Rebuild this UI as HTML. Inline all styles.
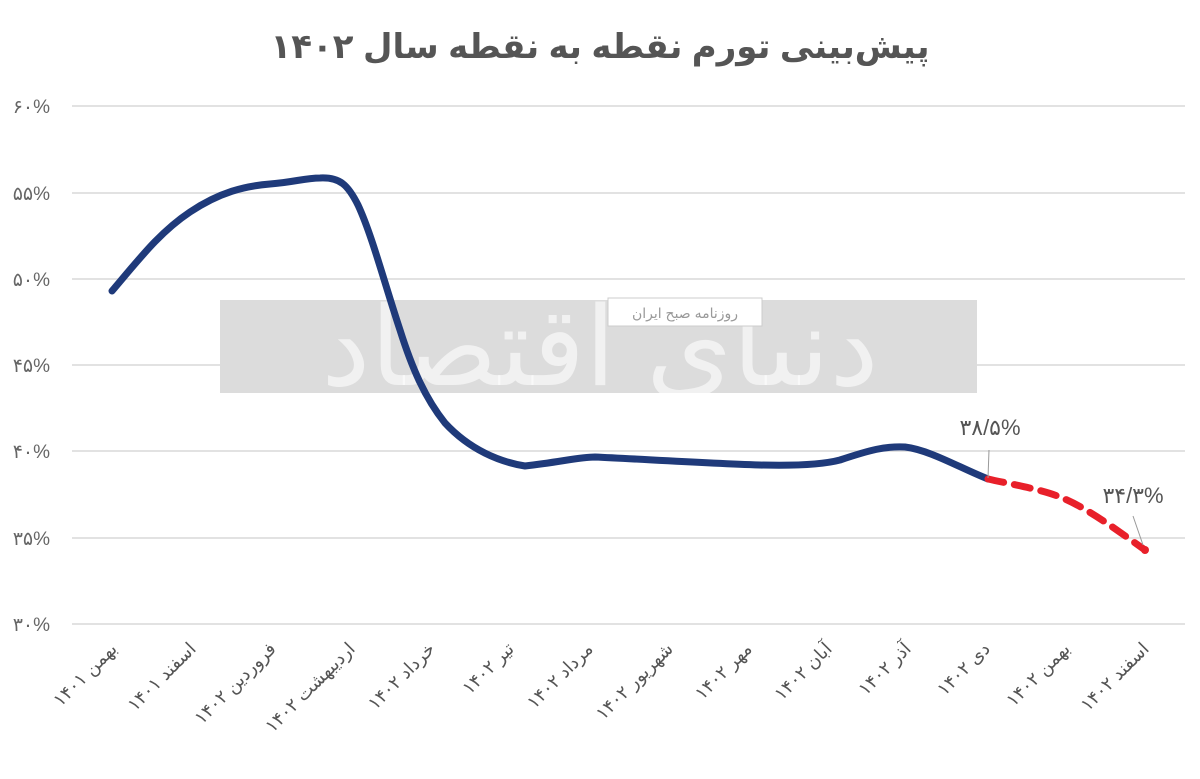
<!DOCTYPE html>
<html><head><meta charset="utf-8"><style>
body{margin:0;background:#fff;}
svg{display:block;font-family:"Liberation Sans","Noto Sans CJK SC","DejaVu Sans",sans-serif;}
</style></head><body>
<svg width="1200" height="779" viewBox="0 0 1200 779" xmlns="http://www.w3.org/2000/svg">
<text x="600" y="58" text-anchor="middle" font-size="34" font-weight="bold" fill="#555" direction="rtl">پیش‌بینی تورم نقطه به نقطه سال ۱۴۰۲</text>
<g stroke="#d9d9d9" stroke-width="1.5">
<line x1="72" y1="106" x2="1185" y2="106"/>
<line x1="72" y1="193" x2="1185" y2="193"/>
<line x1="72" y1="279" x2="1185" y2="279"/>
<line x1="72" y1="365" x2="1185" y2="365"/>
<line x1="72" y1="451" x2="1185" y2="451"/>
<line x1="72" y1="538" x2="1185" y2="538"/>
<line x1="72" y1="624" x2="1185" y2="624"/>
</g>
<g font-size="19" fill="#666" text-anchor="end">
<text x="50" y="113">۶۰%</text>
<text x="50" y="200">۵۵%</text>
<text x="50" y="286">۵۰%</text>
<text x="50" y="372">۴۵%</text>
<text x="50" y="458">۴۰%</text>
<text x="50" y="545">۳۵%</text>
<text x="50" y="631">۳۰%</text>
</g>
<rect x="220" y="300" width="757" height="93" fill="#dcdcdc"/>
<text x="600" y="385" text-anchor="middle" font-size="110" fill="#fff" fill-opacity="0.6" direction="rtl">دنیای اقتصاد</text>
<rect x="608" y="298" width="154" height="28" fill="#fff" stroke="#ccc"/>
<text x="685" y="318" text-anchor="middle" font-size="14" fill="#999" direction="rtl">روزنامه صبح ایران</text>
<path d="M112,291 C140,258 160,232 190,212 C220,192 245,186 270,184 C295,182 305,178 320,178 C340,177 348,185 358,205 C372,235 385,285 400,330 C412,368 425,398 445,423 C470,450 500,462 525,466 C560,462 580,457 595,457 C640,459 700,463 760,465 C800,466 825,464 840,460 C870,450 885,446 905,447 C930,450 960,468 988,479" fill="none" stroke="#1f3a7a" stroke-width="7" stroke-linejoin="round" stroke-linecap="round"/>
<path d="M988,479 C1010,484 1040,489 1060,497 C1085,507 1110,525 1145,550" fill="none" stroke="#e8202a" stroke-width="7" stroke-dasharray="16,11" stroke-linecap="round"/>
<circle cx="1145" cy="550" r="4" fill="#e8202a"/>
<line x1="988" y1="478" x2="989" y2="450" stroke="#999" stroke-width="1"/>
<line x1="1133" y1="516" x2="1143" y2="545" stroke="#999" stroke-width="1"/>
<text x="990" y="435" text-anchor="middle" font-size="22" fill="#555">۳۸/۵%</text>
<text x="1133" y="503" text-anchor="middle" font-size="22" fill="#555">۳۴/۳%</text>
<g font-size="18" fill="#555" text-anchor="start" direction="rtl">
<text transform="translate(118,650) rotate(-45)">بهمن ۱۴۰۱</text>
<text transform="translate(197,650) rotate(-45)">اسفند ۱۴۰۱</text>
<text transform="translate(277,650) rotate(-45)">فروردین ۱۴۰۲</text>
<text transform="translate(356,650) rotate(-45)">اردیبهشت ۱۴۰۲</text>
<text transform="translate(436,650) rotate(-45)">خرداد ۱۴۰۲</text>
<text transform="translate(515,650) rotate(-45)">تیر ۱۴۰۲</text>
<text transform="translate(594,650) rotate(-45)">مرداد ۱۴۰۲</text>
<text transform="translate(674,650) rotate(-45)">شهریور ۱۴۰۲</text>
<text transform="translate(753,650) rotate(-45)">مهر ۱۴۰۲</text>
<text transform="translate(833,650) rotate(-45)">آبان ۱۴۰۲</text>
<text transform="translate(912,650) rotate(-45)">آذر ۱۴۰۲</text>
<text transform="translate(991,650) rotate(-45)">دی ۱۴۰۲</text>
<text transform="translate(1071,650) rotate(-45)">بهمن ۱۴۰۲</text>
<text transform="translate(1150,650) rotate(-45)">اسفند ۱۴۰۲</text>
</g>
</svg>
</body></html>
